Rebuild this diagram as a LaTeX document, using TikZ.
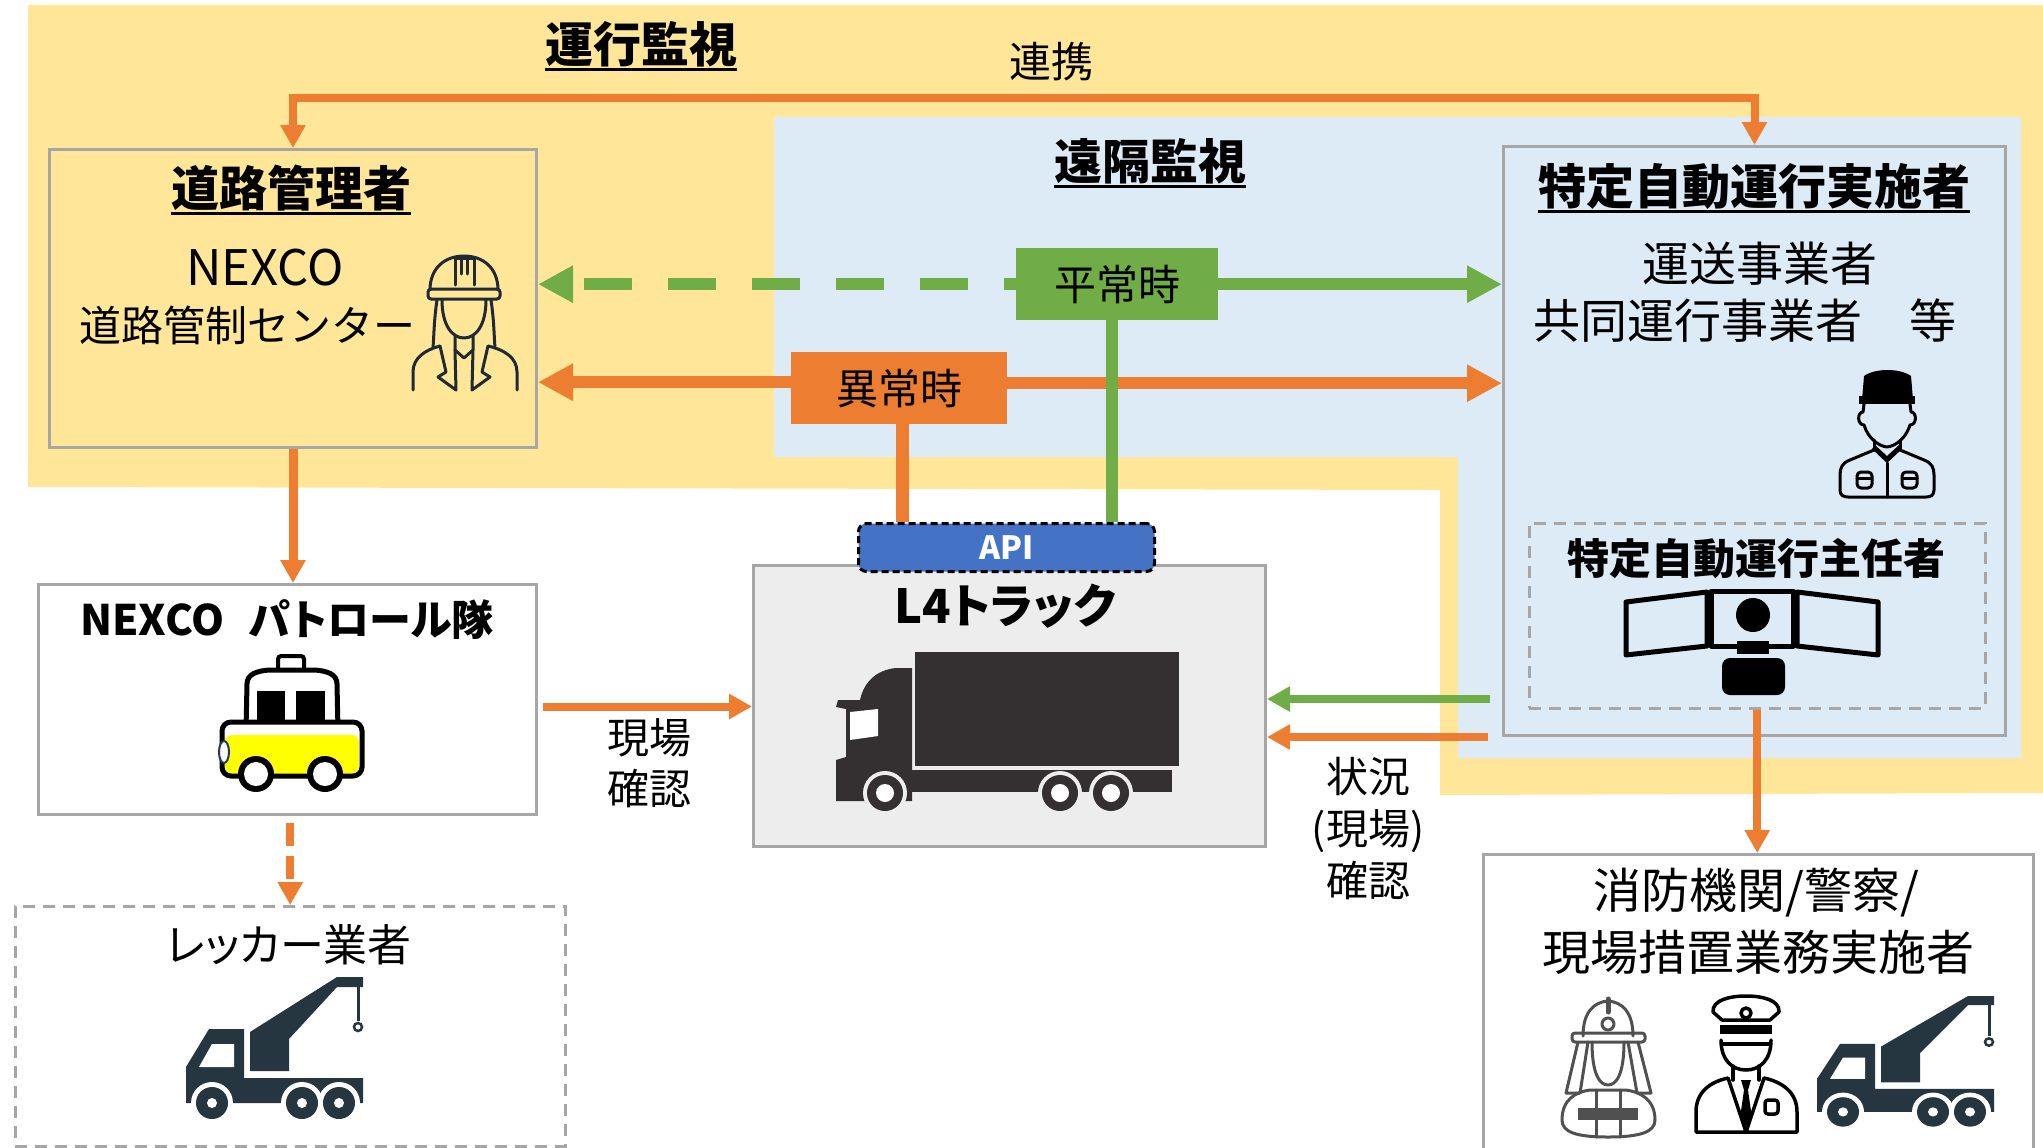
\documentclass[tikz,border=0pt]{standalone}
\usepackage{fontspec}
\setmainfont{Noto Sans CJK JP}
\newfontfamily\paltfont[RawFeature=+palt]{Noto Sans CJK JP}
\usetikzlibrary{arrows.meta,calc}
\definecolor{zoneY}{HTML}{FFE699}
\definecolor{zoneB}{HTML}{DDEBF7}
\definecolor{corange}{HTML}{ED7D31}
\definecolor{cgreen}{HTML}{70AD47}
\definecolor{capi}{HTML}{4472C4}
\definecolor{cframe}{HTML}{A6A6A6}
\definecolor{ctruck}{HTML}{EDEDED}
\definecolor{cslate}{HTML}{263640}
\definecolor{cdark}{HTML}{342F31}
\definecolor{cline}{HTML}{1E2A36}
\definecolor{cnavy}{HTML}{1F3864}
\definecolor{cyellow}{HTML}{FFFF00}
\definecolor{cfire}{HTML}{505050}
\newcommand\ulnode[1]{\draw[line width=3pt] ([yshift=-7pt]#1.base west) -- ([yshift=-7pt]#1.base east);}

\tikzset{
  towtruck/.pic={
    \fill[cslate] (0,90) -- (23,52) -- (58,52) -- (58,101) -- (177,101) -- (177,126) -- (0,126) -- cycle;
    \fill[white] (13,90) -- (26,67) -- (48,67) -- (48,90) -- cycle;
    \fill[cslate] (64,55) -- (151,0) -- (177,0) -- (177,10) -- (151,10) -- (103,62) -- (103,94) -- (64,94) -- cycle;
    \draw[cslate, line width=3pt] (172,10) -- (172,44);
    \draw[cslate, line width=2.5pt] (172,50) circle (4pt);
    \foreach \cx in {26,116,153} {
      \fill[white] (\cx,126) circle (21pt);
      \fill[cslate] (\cx,126) circle (16pt);
      \fill[white] (\cx,126) circle (5pt);
    }
  },
  patrolcar/.pic={
    \draw[line width=4pt, fill=white, rounded corners=3pt] (61,2) rectangle (87,21);
    \draw[line width=5pt, fill=white] (29,76) -- (30,30) .. controls (30,20) and (40,17) .. (52,16)
      -- (98,16) .. controls (110,17) and (120,20) .. (120,30) -- (121,76);
    \fill (40,37) rectangle (68,67);
    \fill (79,37) rectangle (108,67);
    \fill[white, rounded corners=9pt] (5,68) rectangle (145,122);
    \fill[cyellow, rounded corners=7pt] (8,81) rectangle (142,120);
    \draw[line width=5pt, rounded corners=9pt] (5,68) rectangle (145,122);
    \foreach \cx in {39,108} {
      \fill (\cx,120) circle (18pt);
      \fill[white] (\cx,120) circle (12pt);
    }
    \draw[cnavy, line width=2pt, fill=white] (7,98) ellipse (5pt and 11pt);
  }
}

\begin{document}
\begin{tikzpicture}[x=1pt,y=-1pt,
  >={Triangle[length=23pt,width=24pt]},
  boxframe/.style={draw=cframe, line width=3pt, inner sep=0pt, anchor=north west},
  dframe/.style={boxframe, dash pattern=on 12pt off 8pt, line width=2.5pt},
  lbl/.style={inner sep=0pt, align=center},
  bigarrow/.style={line width=12pt, -{Triangle[length=35pt,width=35pt]}},
  smallarrow/.style={line width=8pt, ->},
  icon/.style={line width=3pt, line cap=round, line join=round},
]
\useasboundingbox (0,0) rectangle (2043,1148);

% monitoring zones
\fill[zoneY] (28,5) -- (2043,5) -- (2043,793) -- (1440,795) -- (1440,490) -- (28,487) -- cycle;
\fill[zoneB] (774,117) -- (2021,117) -- (2021,758) -- (1458,758) -- (1458,457) -- (774,457) -- cycle;

% boxes
\node[boxframe, fill=zoneY, minimum width=487pt, minimum height=298pt] (rm) at (48,148) {};
\node[boxframe, fill=zoneB, minimum width=502pt, minimum height=589pt] (spec) at (1502,145) {};
\node[dframe, minimum width=456pt, minimum height=185pt] (mgr) at (1528,522) {};
\node[boxframe, fill=white, minimum width=498pt, minimum height=230pt] (pat) at (37,583) {};
\node[dframe, fill=white, minimum width=550pt, minimum height=240pt] (tow) at (14,905) {};
\node[boxframe, fill=ctruck, minimum width=512pt, minimum height=281pt] (l4) at (752,564) {};
\node[boxframe, fill=white, minimum width=550pt, minimum height=300pt] (bot) at (1482,853) {};
\node[anchor=north west, inner sep=0pt, fill=cgreen, minimum width=202pt, minimum height=72pt,
  font=\fontsize{42}{50}\selectfont] (norm) at (1016,248) {平常時};
\node[anchor=north west, inner sep=0pt, fill=corange, minimum width=216pt, minimum height=72pt,
  font=\fontsize{42}{50}\selectfont] (abn) at (791,352) {異常時};
\node[anchor=north west, inner sep=0pt, fill=capi, draw=black, line width=3pt,
  dash pattern=on 7pt off 4pt, rounded corners=8pt, minimum width=296pt, minimum height=48pt,
  text=white, font=\bfseries\fontsize{32}{38}\selectfont] (api) at (857,522) {API};

% headings and texts
\node[lbl, font=\bfseries\fontsize{48}{58}\selectfont] (opmon) at (641,44) {運行監視};
\ulnode{opmon}
\node[lbl, font=\bfseries\fontsize{48}{58}\selectfont] (remote) at (1150,161) {遠隔監視};
\ulnode{remote}
\node[lbl, font=\fontsize{42}{50}\selectfont] (link) at (1051,62) {連携};
\node[lbl, font=\bfseries\fontsize{48}{58}\selectfont] (rmh) at (291,188) {道路管理者};
\ulnode{rmh}
\node[lbl, font=\fontsize{49}{58}\selectfont] (rmt1) at (265,268) {NEXCO};
\node[lbl, font=\fontsize{42}{50}\selectfont] (rmt2) at (247,325) {道路管制センター};
\node[lbl, font=\bfseries\fontsize{48}{58}\selectfont] (spech) at (1754,186) {特定自動運行実施者};
\ulnode{spech}
\node[lbl, font=\fontsize{47}{56}\selectfont] (spect1) at (1760,264) {運送事業者};
\node[lbl, font=\fontsize{47}{56}\selectfont] (spect2) at (1745,321) {共同運行事業者　等};
\node[lbl, font=\bfseries\fontsize{42}{50}\selectfont] (mgrh) at (1756,559) {特定自動運行主任者};
\node[lbl, font=\paltfont\bfseries\fontsize{42}{50}\selectfont] (path) at (287,620) {NEXCO\hspace{0.6em}パトロール隊};
\node[lbl, font=\paltfont\fontsize{44}{53}\selectfont] (towh) at (289,945) {レッカー業者};
\node[lbl, font=\paltfont\bfseries\fontsize{47}{56}\selectfont] (l4h) at (1005,606) {L4トラック};
\node[lbl, font=\fontsize{42}{50.5}\selectfont] (sitechk) at (649,763) {現場\\確認};
\node[lbl, font=\fontsize{42}{52}\selectfont] (statchk) at (1368,829) {状況\\(現場)\\確認};
\node[lbl, font=\fontsize{48}{58}\selectfont] (bott1) at (1756,893) {消防機関/警察/};
\node[lbl, font=\fontsize{48}{58}\selectfont] (bott2) at (1758,952) {現場措置業務実施者};

% connectors
\draw[smallarrow, corange, <->] (spec.north) -- ++(0,-47) -| (rm.north);
\draw[bigarrow, cgreen, dash pattern=on 48pt off 36pt, dash phase=36pt] (norm.west) -- (norm.west -| rm.east);
\draw[bigarrow, cgreen] (norm.east) -- (norm.east -| spec.west);
\draw[bigarrow, corange] ([yshift=6pt]abn.west) -- ([yshift=6pt]abn.west -| rm.east);
\draw[bigarrow, corange] ([yshift=5pt]abn.east) -- ([yshift=5pt]abn.east -| spec.west);
\draw[corange, line width=13pt] ([xshift=3pt]abn.south) -- ([xshift=3pt]abn.south |- api.north);
\draw[cgreen, line width=12pt] ([xshift=-5pt]norm.south) -- ([xshift=-5pt]norm.south |- api.north);
\draw[smallarrow, corange, line width=9pt] (rm.south) -- (rm.south |- pat.north);
\draw[smallarrow, corange, dash pattern=on 23pt off 10pt, shorten <=7pt] (tow.north |- pat.south) -- (tow.north);
\draw[smallarrow, corange, shorten <=5pt] ([yshift=-7pt]pat.east) -- ([yshift=-7pt]pat.east -| l4.west);
\coordinate (gs) at (1490,699);
\coordinate (os) at (1488,737);
\draw[smallarrow, cgreen] (gs) -- (gs -| l4.east);
\draw[smallarrow, corange] (os) -- (os -| l4.east);
\draw[smallarrow, corange] (mgr.south) -- (mgr.south |- bot.north);

% road control operator (outline figure)
\begin{scope}[icon, draw=cline]
  \draw (430,290) .. controls (430,268) and (445,256) .. (464,256) .. controls (483,256) and (498,268) .. (498,290);
  \draw[rounded corners=3pt] (428,289) rectangle (500,299);
  \draw (455,285) -- (455,258) -- (474,258) -- (474,285);
  \draw (461,260) -- (461,274) (467,260) -- (467,274);
  \draw (442,300) .. controls (442,325) and (452,338) .. (464,338) .. controls (476,338) and (486,325) .. (486,300);
  \draw (437,300) .. controls (434,320) and (434,335) .. (433,348);
  \draw (491,300) .. controls (494,320) and (494,335) .. (495,348);
  \draw (455,336) -- (455,350) -- (464,358) -- (473,350) -- (473,336);
  \draw (413,390) -- (413,372) .. controls (413,358) and (425,350) .. (440,346);
  \draw (517,390) -- (517,372) .. controls (517,358) and (505,350) .. (488,346);
  \draw (440,346) -- (446,372) -- (438,377) -- (456,390) -- (455,350);
  \draw (488,346) -- (482,372) -- (490,377) -- (472,390) -- (473,350);
\end{scope}

% transport operator (worker with cap)
\begin{scope}[icon, draw=black]
  \fill (1862,400) -- (1864,376) .. controls (1875,368) and (1900,368) .. (1911,376) -- (1913,400) -- cycle;
  \fill (1859,396) rectangle (1915,404);
  \draw (1864,404) -- (1863,412) .. controls (1857,412) and (1857,425) .. (1864,425)
    .. controls (1868,438) and (1878,446) .. (1887,447) .. controls (1896,446) and (1906,438) .. (1910,425)
    .. controls (1917,425) and (1917,412) .. (1911,412) -- (1910,404);
  \draw (1874,440) -- (1874,450) (1900,440) -- (1900,450);
  \fill (1872,449) -- (1887,463) -- (1902,449) -- (1899,445) -- (1887,456) -- (1875,445) -- cycle;
  \draw (1874,450) -- (1850,460) .. controls (1842,463) and (1840,468) .. (1840,475) -- (1840,490)
    .. controls (1840,495) and (1843,497) .. (1848,497) -- (1926,497) .. controls (1931,497) and (1934,495) .. (1934,490)
    -- (1934,475) .. controls (1934,468) and (1932,463) .. (1924,460) -- (1900,450);
  \draw (1887,463) -- (1887,497);
  \draw[rounded corners=4pt] (1857,472) -- (1857,488) -- (1872,488) -- (1872,472) -- cycle;
  \draw[rounded corners=4pt] (1902,472) -- (1902,488) -- (1917,488) -- (1917,472) -- cycle;
  \draw (1857,478) -- (1872,478) (1902,478) -- (1917,478);
\end{scope}

% remote supervisor at monitors
\begin{scope}[line width=5pt, line join=round]
  \draw (1626,602) -- (1707,592) -- (1707,646) -- (1626,655) -- cycle;
  \draw (1711,591) rectangle (1793,646);
  \draw (1797,592) -- (1878,602) -- (1878,655) -- (1797,646) -- cycle;
  \fill (1753,615) circle (17pt);
  \fill (1737,641) rectangle (1769,654);
  \fill[rounded corners=8pt] (1722,695) -- (1722,658) -- (1785,658) -- (1785,695) -- cycle;
\end{scope}

% L4 truck
\fill[cdark] (915,652) rectangle (1179,766);
\fill[cdark] (912,668) -- (896,668) .. controls (876,670) and (864,682) .. (860,700)
  -- (838,700) -- (836,707) -- (846,709) -- (846,757) -- (836,760) -- (836,801) -- (912,801) -- cycle;
\fill[cdark] (912,770) rectangle (1172,792);
\fill[white] (850,712) -- (878,709) -- (878,736) -- (850,740) -- cycle;
\foreach \cx in {885,1060,1111} {
  \fill[ctruck] (\cx,793) circle (22pt);
  \fill[cdark] (\cx,793) circle (18pt);
  \fill[white] (\cx,793) circle (9pt);
}

% patrol car and tow trucks
\pic at (217,654) {patrolcar};
\pic at (186,977) {towtruck};
\pic[yscale=0.92] at (1817,996) {towtruck};

% firefighter
\begin{scope}[icon, draw=cfire]
  \draw (1583,1036) .. controls (1583,1012) and (1594,1002) .. (1608,1001) .. controls (1622,1002) and (1633,1012) .. (1633,1036);
  \draw[line width=5pt] (1608,999) -- (1608,1012);
  \draw[rounded corners=3pt] (1572,1033) rectangle (1645,1042);
  \draw (1608,1024) circle (6pt);
  \draw (1578,1042) -- (1566,1093) -- (1580,1093) -- (1588,1042);
  \draw (1638,1042) -- (1651,1093) -- (1637,1093) -- (1628,1042);
  \draw (1592,1042) .. controls (1592,1075) and (1600,1085) .. (1608,1085) .. controls (1616,1085) and (1624,1075) .. (1624,1042);
  \draw (1562,1120) .. controls (1562,1100) and (1575,1092) .. (1590,1090) -- (1626,1090)
    .. controls (1641,1092) and (1655,1100) .. (1655,1120) .. controls (1655,1132) and (1640,1137) .. (1608,1137)
    .. controls (1576,1137) and (1562,1132) .. (1562,1120);
  \fill[cfire] (1578,1108) rectangle (1638,1120);
  \draw (1596,1090) -- (1596,1137) (1620,1090) -- (1620,1137);
\end{scope}

% police officer
\begin{scope}[icon, draw=black, line width=3.5pt]
  \draw (1713,1012) .. controls (1712,1000) and (1730,996) .. (1746,996) .. controls (1762,996) and (1780,1000) .. (1779,1012)
    -- (1770,1020) -- (1722,1020) -- cycle;
  \draw (1746,1013) circle (5pt);
  \fill (1720,1025) rectangle (1772,1034);
  \draw (1721,1040) .. controls (1721,1060) and (1732,1070) .. (1746,1070) .. controls (1760,1070) and (1771,1060) .. (1771,1040);
  \draw (1723,1044) -- (1769,1044);
  \draw (1733,1066) -- (1733,1080) (1759,1066) -- (1759,1080);
  \draw (1696,1132) -- (1696,1112) .. controls (1696,1092) and (1710,1082) .. (1728,1078) -- (1746,1132)
    -- (1764,1078) .. controls (1782,1082) and (1797,1092) .. (1797,1112) -- (1797,1132) -- cycle;
  \fill (1741,1080) -- (1751,1080) -- (1748,1090) -- (1752,1118) -- (1746,1126) -- (1740,1118) -- (1744,1090) -- cycle;
  \draw[rounded corners=3pt] (1765,1100) rectangle (1778,1114);
\end{scope}
\end{tikzpicture}
\end{document}
